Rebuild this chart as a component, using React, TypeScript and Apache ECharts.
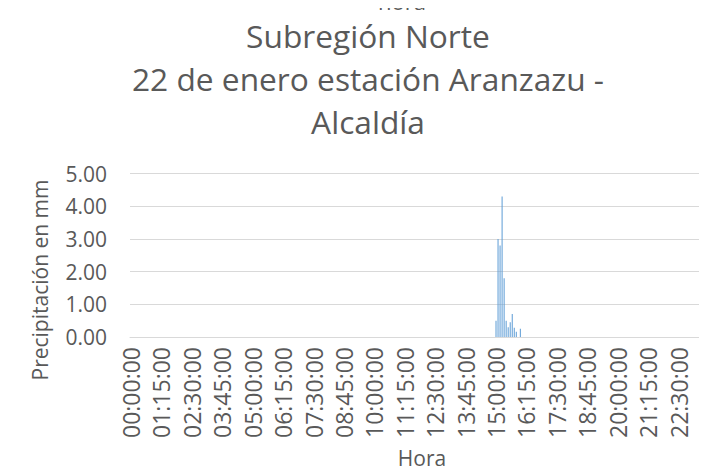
import React, { useEffect, useRef } from "react";
import * as echarts from "echarts";

// Categories: every 5 minutes of the day
const categories: string[] = [];
for (let m = 0; m < 24 * 60; m += 5) {
  const h = String(Math.floor(m / 60)).padStart(2, "0");
  const mm = String(m % 60).padStart(2, "0");
  categories.push(`${h}:${mm}:00`);
}

// Only non-zero readings (all other 5-minute slots read 0.00)
const rainTimes = [
  "15:00:00", "15:05:00", "15:10:00", "15:15:00", "15:20:00", "15:25:00",
  "15:30:00", "15:35:00", "15:40:00", "15:45:00", "15:50:00", "16:00:00",
];
const rainValues = [0.5, 3.0, 2.8, 4.3, 1.8, 0.5, 0.3, 0.45, 0.7, 0.28, 0.16, 0.25];

const yTicks = [0, 1, 2, 3, 4, 5];

const titleLines = ["Subregión Norte", "22 de enero estación Aranzazu -", "Alcaldía"];
const topCutText = "hora";
const xName = "Hora";
const yName = "Precipitación en mm";

const FONT = "'Open Sans', 'Liberation Sans', sans-serif";
const GREY = "#595959";

export default function App() {
  const ref = useRef<HTMLDivElement>(null);
  useEffect(() => {
    if (!ref.current) return;
    const chart = echarts.init(ref.current, undefined, { renderer: "svg" });
    const lookup: Record<string, number> = {};
    rainTimes.forEach((t, i) => (lookup[t] = rainValues[i]));
    const data = categories.map((c) => (c in lookup ? lookup[c] : 0));
    chart.setOption({
      animation: false,
      backgroundColor: "#ffffff",
      textStyle: { fontFamily: FONT },
      title: [
        {
          text: titleLines.join("\n"),
          left: 363,
          top: 9,
          textAlign: "center",
          textStyle: {
            fontFamily: FONT,
            fontSize: 31.7,
            fontWeight: "normal",
            color: GREY,
            lineHeight: 43,
          },
        },
        {
          text: topCutText,
          left: 402,
          top: -10,
          padding: 0,
          textAlign: "center",
          textStyle: {
            fontFamily: FONT,
            fontSize: 22,
            fontWeight: "normal",
            color: GREY,
            lineHeight: 22,
          },
        },
      ],
      graphic: [
        {
          type: "text",
          x: 40,
          y: 280,
          rotation: Math.PI / 2,
          style: {
            text: yName,
            fontFamily: FONT,
            fontSize: 21,
            fill: GREY,
            align: "center",
            verticalAlign: "middle",
          },
        },
      ],
      grid: {
        left: 130,
        top: 173.5,
        width: 584,
        bottom: 137,
        containLabel: false,
        outerBoundsMode: "none",
      },
      xAxis: {
        type: "category",
        data: categories,
        name: xName,
        nameLocation: "middle",
        nameGap: 110,
        nameTextStyle: { fontFamily: FONT, fontSize: 21, color: GREY },
        axisLine: { show: true, lineStyle: { color: "#d9d9d9", width: 1 } },
        axisTick: { show: false },
        axisLabel: {
          interval: 14,
          rotate: 90,
          margin: 10,
          fontFamily: FONT,
          fontSize: 23,
          color: GREY,
        },
      },
      yAxis: {
        type: "value",
        min: yTicks[0],
        max: yTicks[yTicks.length - 1],
        interval: 1,
        axisLine: { show: false },
        axisTick: { show: false },
        splitLine: { lineStyle: { color: "#d9d9d9", width: 1 } },
        axisLabel: {
          margin: 23,
          fontFamily: FONT,
          fontSize: 21,
          color: GREY,
          formatter: (v: number) => v.toFixed(2),
        },
      },
      series: [
        {
          type: "bar",
          data,
          barWidth: 0.9,
          itemStyle: { color: "#5B9BD5" },
        },
      ],
    });
    return () => chart.dispose();
  }, []);
  return <div ref={ref} style={{ width: 707, height: 474, margin: -8 }} />;
}
